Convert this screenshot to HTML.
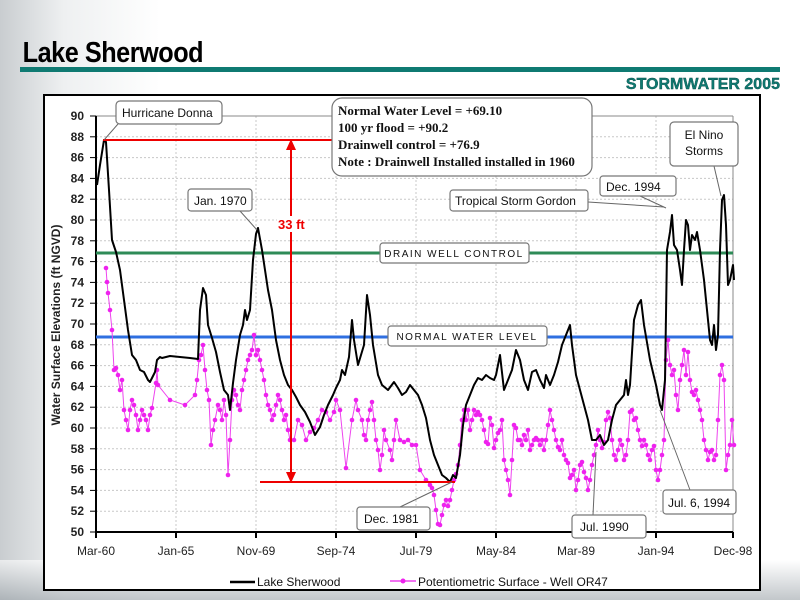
<!DOCTYPE html>
<html><head><meta charset="utf-8"><style>
body{margin:0;width:800px;height:600px;overflow:hidden;background:#fff;font-family:"Liberation Sans",sans-serif}
</style></head><body>
<svg id="s" width="800" height="600" xmlns="http://www.w3.org/2000/svg" font-family="Liberation Sans, sans-serif">
<defs>
<linearGradient id="lg" x1="0" x2="1" y1="0" y2="0"><stop offset="0" stop-color="#c9cdd0"/><stop offset="0.08" stop-color="#eef0f1"/><stop offset="0.2" stop-color="#fff"/></linearGradient>
<linearGradient id="bg" x1="0" x2="0" y1="0" y2="1"><stop offset="0" stop-color="#fff"/><stop offset="1" stop-color="#9aa2a8"/></linearGradient>
</defs>
<rect x="0" y="0" width="800" height="600" fill="url(#lg)"/>
<rect x="0" y="560" width="800" height="40" fill="url(#bg)" opacity="0.6"/>
<text x="26" y="62" font-size="29" font-weight="bold" fill="#000" transform="scale(0.87,1)" style="font-stretch:condensed" textLength="208">Lake Sherwood</text>
<rect x="20" y="67" width="760" height="5" fill="#0f7a72"/>
<text x="780" y="89" font-size="16" font-weight="bold" fill="#0f7a72" text-anchor="end" stroke="#0a4d48" stroke-width="0.4">STORMWATER 2005</text>
<rect x="44" y="95" width="716" height="495" fill="#fff" stroke="#000" stroke-width="2"/>
<g id="grid" stroke="#c8c8c8" stroke-dasharray="2,2" stroke-width="1"></g>
<line x1="96" y1="116" x2="733" y2="116" stroke="#888" stroke-width="1"/>
<line x1="733" y1="116" x2="733" y2="532" stroke="#888" stroke-width="1"/>
<line x1="96" y1="116" x2="96" y2="532" stroke="#000" stroke-width="2"/>
<line x1="96" y1="532" x2="733" y2="532" stroke="#000" stroke-width="2"/>
<g id="yt" font-size="12" font-weight="bold" fill="#222" text-anchor="end"></g>
<g id="xt" font-size="12" fill="#222" text-anchor="middle"></g>
<text transform="translate(60,325) rotate(-90)" font-size="12" font-weight="bold" text-anchor="middle" fill="#222">Water Surface Elevations (ft NGVD)</text>
<line x1="96" y1="253" x2="733" y2="253" stroke="#2e8b57" stroke-width="3"/>
<line x1="96" y1="337" x2="733" y2="337" stroke="#2f6fe0" stroke-width="3"/>
<polyline id="mag" fill="none" stroke="#ee44ee" stroke-width="1"/>
<g id="dots" fill="#ee22ee"></g>
<polyline id="blk" fill="none" stroke="#000" stroke-width="2" stroke-linejoin="round"/>
<g stroke="#e00" stroke-width="2" fill="#e00">
<line x1="103" y1="140" x2="336" y2="140"/>
<line x1="291" y1="141" x2="291" y2="481"/>
<line x1="260" y1="482" x2="455" y2="482"/>
<path d="M291,139 l-5,11 h10z" stroke="none"/>
<path d="M291,483 l-5,-11 h10z" stroke="none"/>
</g>
<rect x="277" y="216" width="30" height="16" fill="#fff"/>
<text x="278" y="229" font-size="13" font-weight="bold" fill="#e00">33 ft</text>
<g stroke="#666" stroke-width="1" fill="none">
<line x1="118" y1="124" x2="104" y2="140"/>
<line x1="240" y1="211" x2="257" y2="230"/>
<line x1="588" y1="202" x2="664" y2="207"/>
<line x1="640" y1="196" x2="666" y2="208"/>
<line x1="714" y1="166" x2="721" y2="196"/>
<line x1="400" y1="507" x2="452" y2="482"/>
<line x1="593" y1="515" x2="596" y2="452"/>
<line x1="690" y1="490" x2="660" y2="410"/>
</g>
<g fill="#fff" stroke="#777" stroke-width="1.2">
<rect x="116" y="101" width="106" height="23" rx="4"/>
<rect x="332" y="98" width="260" height="78" rx="10"/>
<rect x="188" y="189" width="64" height="22" rx="3"/>
<rect x="450" y="190" width="138" height="21" rx="3"/>
<rect x="600" y="176" width="76" height="20" rx="3"/>
<rect x="670" y="122" width="68" height="44" rx="4"/>
<rect x="380" y="243" width="149" height="20" rx="3"/>
<rect x="388" y="326" width="159" height="20" rx="3"/>
<rect x="357" y="507" width="73" height="23" rx="3"/>
<rect x="572" y="515" width="74" height="23" rx="3"/>
<rect x="663" y="490" width="73" height="24" rx="3"/>
</g>
<g font-size="12" fill="#111">
<text x="122" y="117">Hurricane Donna</text>
<text x="194" y="205">Jan. 1970</text>
<text x="455" y="205">Tropical Storm Gordon</text>
<text x="606" y="191">Dec. 1994</text>
<text x="704" y="139" text-anchor="middle">El Nino</text>
<text x="704" y="155" text-anchor="middle">Storms</text>
<text x="364" y="523">Dec. 1981</text>
<text x="580" y="531">Jul. 1990</text>
<text x="668" y="507">Jul. 6, 1994</text>
<text x="454" y="257" text-anchor="middle" font-size="10" letter-spacing="1.5">DRAIN WELL CONTROL</text>
<text x="467" y="340" text-anchor="middle" font-size="10" letter-spacing="1.5">NORMAL WATER LEVEL</text>
</g>
<g font-family="Liberation Serif, serif" font-weight="bold" font-size="13" fill="#111">
<text x="338" y="115">Normal Water Level = +69.10</text>
<text x="338" y="132">100 yr flood = +90.2</text>
<text x="338" y="149">Drainwell control = +76.9</text>
<text x="338" y="166">Note : Drainwell Installed installed in 1960</text>
</g>
<line x1="230" y1="582" x2="255" y2="582" stroke="#000" stroke-width="2.5"/>
<text x="257" y="586" font-size="12" fill="#111">Lake Sherwood</text>
<line x1="390" y1="581" x2="416" y2="581" stroke="#ee44ee" stroke-width="1.5"/>
<circle cx="403" cy="581" r="2.5" fill="#ee22ee"/>
<text x="418" y="586" font-size="12" fill="#111">Potentiometric Surface - Well OR47</text>
</svg>
<script>
var NS="http://www.w3.org/2000/svg";
function el(p,t,a,txt){var e=document.createElementNS(NS,t);for(var k in a)e.setAttribute(k,a[k]);if(txt)e.textContent=txt;document.getElementById(p).appendChild(e);}
var xs=[96,176,256,336,416,496,576,656,733],xl=["Mar-60","Jan-65","Nov-69","Sep-74","Jul-79","May-84","Mar-89","Jan-94","Dec-98"];
for(var v=50;v<=90;v+=2){var y=532-(v-50)*10.4;if(v>50&&v<90)el("grid","line",{x1:96,x2:733,y1:y,y2:y});el("yt","text",{x:84,y:y+4},""+v);el("grid","line",{x1:90,x2:96,y1:y,y2:y,stroke:"#000","stroke-dasharray":"none"});}
xs.forEach(function(x,i){if(i>0&&i<8)el("grid","line",{x1:x,x2:x,y1:116,y2:532});el("grid","line",{x1:x,x2:x,y1:532,y2:538,stroke:"#000","stroke-dasharray":"none","stroke-width":2});el("xt","text",{x:x,y:555},xl[i]);});
var B=[97,185,100,165,104,140,106,142,109,190,112,240,116,252,120,270,124,300,128,330,132,355,136,360,140,370,144,372,148,380,150,382,152,378,155,372,157,360,160,357,162,358,166,357,170,356,180,357,190,358,198,359,200,310,203,288,206,295,208,325,212,338,216,352,220,372,224,390,228,395,230,410,233,383,236,360,240,335,243,325,245,310,247,320,250,310,253,260,256,234,258,228,262,250,265,270,268,290,272,310,276,340,280,360,284,375,288,385,292,390,296,397,300,405,305,412,310,422,315,435,320,427,324,415,328,405,333,395,336,388,340,380,342,370,345,375,349,357,352,320,354,340,358,365,364,345,367,295,370,315,373,345,378,375,382,385,388,390,394,382,398,388,402,395,406,392,410,385,414,390,418,395,422,405,426,418,430,440,434,455,438,465,442,475,446,478,450,482,453,475,456,478,460,455,463,425,466,405,470,395,474,385,478,378,482,380,486,375,490,378,494,380,496,375,500,355,504,390,508,380,512,370,516,350,520,360,524,380,528,390,532,372,536,370,540,380,544,388,546,375,550,385,554,375,558,362,562,345,566,335,570,325,572,345,576,375,580,390,584,405,588,420,592,440,596,440,600,435,604,445,608,440,612,420,616,405,620,400,624,395,626,380,628,395,630,385,634,320,638,305,641,300,644,325,650,360,656,385,660,405,662,410,665,380,667,250,670,232,672,215,674,245,677,250,680,270,682,285,684,250,686,220,688,225,690,250,692,235,695,240,697,232,700,250,704,280,708,320,710,340,712,345,714,325,716,350,718,335,720,250,722,200,724,195,726,225,728,285,730,280,733,265,734,280];
var M=[106,268,107,282,108,293,110,310,112,330,114,370,116,368,118,375,120,390,122,380,124,410,126,420,128,430,130,410,132,400,134,405,136,415,138,430,140,420,142,410,144,415,146,420,148,430,150,415,152,408,156,383,157,370,158,385,170,400,185,405,195,395,197,380,199,360,201,355,203,345,205,370,207,390,209,400,211,445,213,430,215,420,218,405,220,410,222,420,224,400,226,415,228,475,230,440,232,400,234,390,236,395,238,405,240,410,242,390,244,380,246,370,248,360,250,355,252,350,254,335,256,355,258,350,260,360,262,370,264,380,266,395,268,405,270,410,272,420,274,415,276,405,278,395,280,400,282,410,284,420,286,415,288,430,290,440,294,440,298,420,302,425,306,440,310,432,314,428,318,420,322,410,326,412,330,420,334,412,336,400,340,410,346,468,352,420,356,400,358,410,362,420,364,435,366,440,368,420,370,410,372,402,374,420,376,440,378,450,380,470,382,455,384,430,386,440,390,450,392,460,394,440,396,420,400,440,404,442,408,440,412,445,416,445,420,470,426,480,430,485,432,488,434,495,436,510,438,524,440,525,442,515,444,505,446,500,448,506,450,500,452,490,454,480,456,474,458,465,460,445,462,420,464,410,466,420,468,410,470,430,472,420,474,410,476,415,478,412,480,415,482,420,484,430,486,442,488,444,490,418,492,425,494,448,496,440,498,433,500,430,502,420,504,460,506,470,508,480,510,495,512,460,514,425,516,428,518,440,520,440,522,445,524,435,526,440,528,430,530,450,532,445,534,440,536,438,538,440,540,445,542,440,544,450,546,440,548,425,550,410,552,420,554,430,556,440,558,447,560,450,562,440,564,455,566,460,568,463,570,478,572,475,574,470,576,490,578,480,580,465,582,462,584,472,586,478,588,490,590,480,592,465,594,455,596,445,598,430,600,440,602,448,604,442,606,420,608,412,610,418,612,440,614,455,616,460,618,450,620,440,622,445,624,460,626,455,628,440,630,412,632,410,634,420,636,418,638,430,640,440,642,446,644,440,646,445,648,455,650,460,652,450,654,446,656,470,658,480,660,470,662,455,664,440,666,360,668,340,670,365,672,375,674,370,676,395,678,410,680,380,682,365,684,350,686,375,688,352,690,380,692,392,694,395,696,390,698,400,700,410,702,420,704,440,706,450,708,460,710,452,712,450,714,460,716,455,718,420,720,375,722,365,724,380,726,470,728,455,730,445,732,420,734,445];
function pts(a){var s="";for(var i=0;i<a.length;i+=2)s+=a[i]+","+a[i+1]+" ";return s;}
document.getElementById("blk").setAttribute("points",pts(B));
document.getElementById("mag").setAttribute("points",pts(M));
for(var i=0;i<M.length;i+=2)el("dots","circle",{cx:M[i],cy:M[i+1],r:2.3});
</script>
</body></html>
